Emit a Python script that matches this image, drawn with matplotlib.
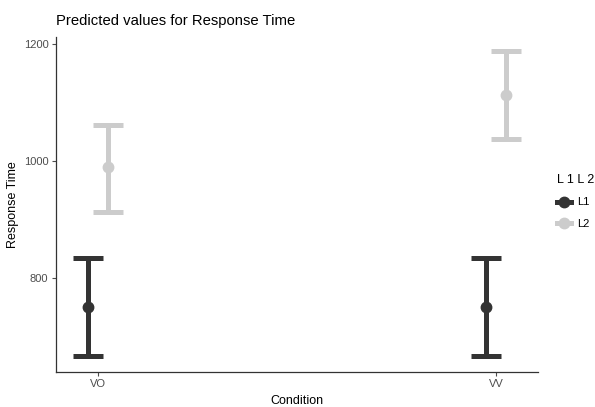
import numpy as np
import matplotlib
matplotlib.use('Agg')
import matplotlib.pyplot as plt
from matplotlib.lines import Line2D

plt.rcParams['font.family'] = ['Liberation Sans', 'DejaVu Sans']

conditions = ['VO', 'VV']
groups = ['L1', 'L2']
means = {'L1': [751, 751], 'L2': [990, 1112]}
lower = {'L1': [667, 667], 'L2': [913, 1038]}
upper = {'L1': [834, 835], 'L2': [1062, 1187]}
colors = {'L1': '#333333', 'L2': '#cccccc'}
dodge = {'L1': -0.025, 'L2': 0.025}

fig = plt.figure(figsize=(5.95, 4.07), dpi=100)
ax = fig.add_axes([0.0941, 0.0867, 0.81, 0.822])

x = np.arange(1, len(conditions) + 1)
for g in groups:
    m = np.array(means[g])
    lo = m - np.array(lower[g])
    hi = np.array(upper[g]) - m
    ax.errorbar(x + dodge[g], m, yerr=[lo, hi], fmt='o', color=colors[g],
                ms=7.5, elinewidth=3.6, capsize=10.5, capthick=3.6, zorder=3)

ax.set_xlim(0.895, 2.105)
ax.set_ylim(641, 1211)
ax.set_xticks(x)
ax.set_xticklabels(conditions)
ax.set_yticks([800, 1000, 1200])
ax.tick_params(colors='#4d4d4d', labelsize=8, length=3, width=0.8, pad=2.5)
for s in ['top', 'right']:
    ax.spines[s].set_visible(False)
for s in ['left', 'bottom']:
    ax.spines[s].set_color('#333333')
    ax.spines[s].set_linewidth(0.9)

ax.set_xlabel('Condition', fontsize=9, labelpad=4)
ax.set_ylabel('Response Time', fontsize=9, labelpad=3)
ax.set_title('Predicted values for Response Time', fontsize=10.7, loc='left', pad=9)

handles = [Line2D([0], [0], color=colors[g], marker='o', ms=7.5, lw=3.6) for g in groups]
leg = fig.legend(handles, groups, title='L 1 L 2', loc='center left',
                 bbox_to_anchor=(0.92, 0.505), frameon=False, fontsize=8,
                 title_fontsize=9, handlelength=1.2, handletextpad=0.6,
                 labelspacing=1.0)
leg._legend_box.align = 'left'

fig.savefig('out.png', dpi=100)
